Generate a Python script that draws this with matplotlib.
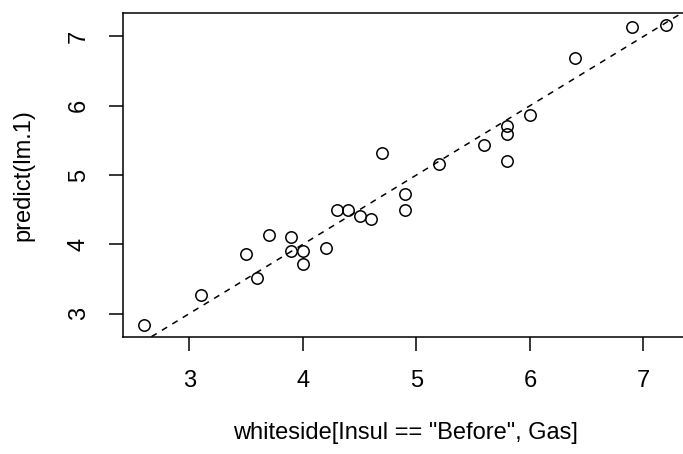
import numpy as np
import matplotlib
matplotlib.use("Agg")
import matplotlib.pyplot as plt

plt.rcParams['font.family'] = ['Liberation Sans', 'DejaVu Sans']
plt.rcParams['font.size'] = 17

# observed gas (Before insulation) and fitted values from lm.1
gas = [7.2, 6.9, 6.4, 6.0, 5.8, 5.8, 5.6, 4.7, 5.8, 5.2, 4.9, 4.9, 4.3,
       4.4, 4.5, 4.6, 3.7, 3.9, 4.2, 4.0, 3.9, 3.5, 4.0, 3.6, 3.1, 2.6]
pred = [7.17, 7.13, 6.69, 5.87, 5.71, 5.59, 5.43, 5.32, 5.20, 5.16, 4.73,
        4.49, 4.49, 4.49, 4.41, 4.37, 4.14, 4.10, 3.94, 3.90, 3.90, 3.86,
        3.71, 3.51, 3.27, 2.84]
xticks = [3, 4, 5, 6, 7]
yticks = [3, 4, 5, 6, 7]

fig = plt.figure(figsize=(6.83, 4.54), dpi=100)
W, H = 683, 454
left, right, top, bottom = 123, 687, 12.7, 336.7
ax = fig.add_axes([left / W, 1 - bottom / H, (right - left) / W, (bottom - top) / H])

lw = 1.1
ax.plot(gas, pred, 'o', mfc='none', mec='black', ms=8.2, mew=lw, clip_on=False)
ax.axline((0, 0), slope=1, color='black', lw=lw, ls=(0, (4, 4)))

# R style 4% padding
def rlim(v):
    lo, hi = min(v), max(v)
    d = (hi - lo) * 0.04
    return lo - d, hi + d

ax.set_xlim(rlim(gas))
ax.set_ylim(rlim(pred))
ax.set_xticks(xticks)
ax.set_yticks(yticks)
for s in ax.spines.values():
    s.set_linewidth(lw)
ax.tick_params(length=10.3, width=lw, pad=13.5)
plt.setp(ax.get_yticklabels(), rotation=90, va='center')

ax.set_xlabel('whiteside[Insul == "Before", Gas]', va='center')
ax.xaxis.set_label_coords(0.5, -(433 - bottom) / (bottom - top))
ax.set_ylabel('predict(lm.1)', va='center')
ax.yaxis.set_label_coords((23 - left) / (right - left), 0.5)

fig.savefig('out.png', dpi=100)
